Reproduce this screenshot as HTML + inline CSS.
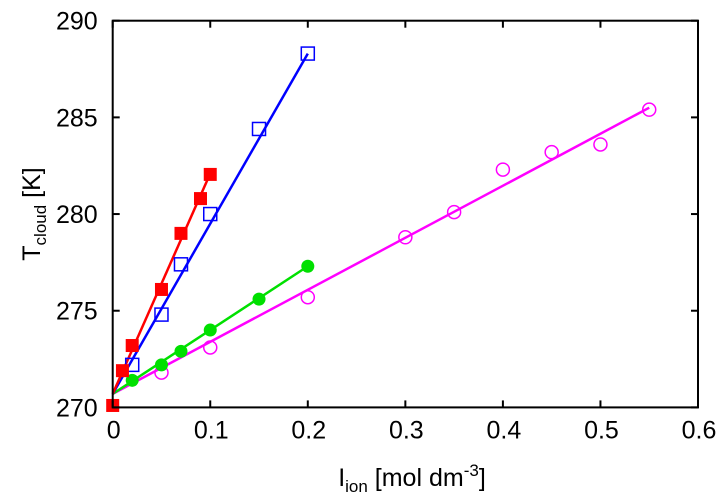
<!DOCTYPE html>
<html><head><meta charset="utf-8"><style>
html,body{margin:0;padding:0;background:#fff;}
svg{display:block;font-family:"Liberation Sans",sans-serif;}
</style></head><body>
<svg id="chart" width="726" height="498">
<g id="series"></g>
<rect x="112.7" y="20.7" width="585.3" height="386.7" fill="none" stroke="#000" stroke-width="2"/>
<g id="axes" font-size="25" fill="#000"></g>
<text x="40" y="214" font-size="25" text-anchor="middle" transform="rotate(-90 40 214)">T<tspan font-size="17" dy="6">cloud</tspan><tspan dy="-6"> [K]</tspan></text>
<text x="412" y="486" font-size="25" text-anchor="middle">I<tspan font-size="17" dy="6">ion</tspan><tspan dy="-6"> [mol dm</tspan><tspan font-size="17" dy="-10">-3</tspan><tspan dy="10">]</tspan></text>
</svg>
<script>
const xTicks=[0,0.1,0.2,0.3,0.4,0.5,0.6];
const xTickLabels=["0","0.1","0.2","0.3","0.4","0.5","0.6"];
const yTicks=[270,275,280,285,290];
const yTickLabels=["270","275","280","285","290"];
const redX=[0,0.01,0.02,0.05,0.07,0.09,0.1];
const redY=[270.1,271.9,273.2,276.1,279.0,280.8,282.05];
const redFit=[[0,270.7],[0.1,282.1]];
const blueX=[0.02,0.05,0.07,0.1,0.15,0.2];
const blueY=[272.2,274.8,277.4,280.0,284.4,288.3];
const blueFit=[[0,270.7],[0.2,288.3]];
const greenX=[0.02,0.05,0.07,0.1,0.15,0.2];
const greenY=[271.4,272.2,272.9,274.0,275.6,277.3];
const greenFit=[[0,270.7],[0.2,277.3]];
const magX=[0.05,0.1,0.2,0.3,0.35,0.4,0.45,0.5,0.55];
const magY=[271.8,273.1,275.7,278.8,280.1,282.3,283.2,283.6,285.4];
const magFit=[[0,270.7],[0.55,285.5]];
const L=112.7,R=698,T=20.7,B=407.4;
const sx=v=>L+(v-0)/(0.6-0)*(R-L);
const sy=v=>B-(v-270)/(290-270)*(B-T);
const NS="http://www.w3.org/2000/svg";
function mk(tag,attrs,parent){const e=document.createElementNS(NS,tag);for(const k in attrs)e.setAttribute(k,attrs[k]);parent.appendChild(e);return e;}
const ax=document.getElementById('axes'),sg=document.getElementById('series');
xTicks.forEach((t,i)=>{
 const x=sx(t);
 let l=mk('line',{x1:x,x2:x,y1:B,y2:B-7,stroke:'#000','stroke-width':2},ax);
 
 
 let l2=mk('line',{x1:x,x2:x,y1:T,y2:T+7,stroke:'#000','stroke-width':2},ax);
 
 
 let tx=mk('text',{x:x+1,y:B+31,'text-anchor':'middle'},ax);tx.textContent=xTickLabels[i];
 
 
});
yTicks.forEach((t,i)=>{
 const y=sy(t);
 let l=mk('line',{x1:L,x2:L+7,y1:y,y2:y,stroke:'#000','stroke-width':2},ax);
 
 
 let l2=mk('line',{x1:R,x2:R-7,y1:y,y2:y,stroke:'#000','stroke-width':2},ax);
 
 
 let tx=mk('text',{x:L-15,y:y+9,'text-anchor':'end'},ax);tx.textContent=yTickLabels[i];
 
 
});
function fit(f,color,name){
 let l=mk('line',{x1:sx(f[0][0]),y1:sy(f[0][1]),x2:sx(f[1][0]),y2:sy(f[1][1]),stroke:color,'stroke-width':2.5},sg);
 
 
}
fit(magFit,'#ff00ff','magenta');fit(greenFit,'#00e000','green');fit(blueFit,'#0000ff','blue');fit(redFit,'#ff0000','red');
magX.forEach((x,i)=>{
 let c=mk('circle',{cx:sx(x),cy:sy(magY[i]),r:6.5,fill:'none',stroke:'#ff00ff','stroke-width':1.5},sg);
 
 
});
greenX.forEach((x,i)=>{
 let c=mk('circle',{cx:sx(x),cy:sy(greenY[i]),r:6.5,fill:'#00e000'},sg);
 
 
});
blueX.forEach((x,i)=>{
 let c=mk('rect',{x:sx(x)-6.5,y:sy(blueY[i])-6.5,width:13,height:13,fill:'none',stroke:'#0000ff','stroke-width':1.5},sg);
 
 
});
redX.forEach((x,i)=>{
 let c=mk('rect',{x:sx(x)-6.5,y:sy(redY[i])-6.5,width:13,height:13,fill:'#ff0000'},sg);
 
 
});
</script>
</body></html>
